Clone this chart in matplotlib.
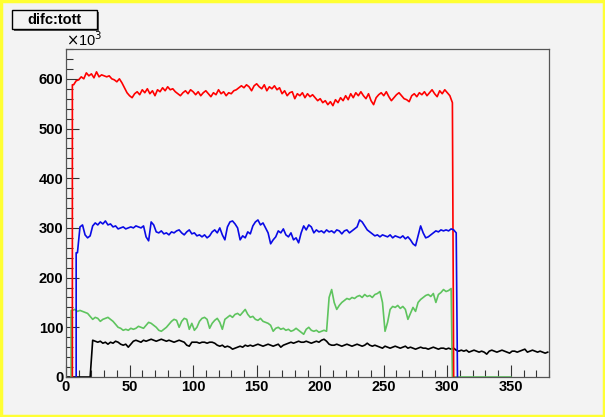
import numpy as np
import matplotlib
matplotlib.use("Agg")
import matplotlib.pyplot as plt
from matplotlib.patches import Rectangle
from matplotlib.ticker import MultipleLocator

plt.rcParams['font.family'] = ['Liberation Sans', 'DejaVu Sans']

# histogram contents (x10^3), 2-unit bins starting at x0
red_x0 = 5
red = [588, 596, 598, 604, 600,
       612, 606, 610, 602, 614, 604, 608, 606, 604, 606,
       600, 598, 594, 600, 592,
       582, 572, 566, 562, 570,
       574, 568, 578, 572, 580, 570, 576, 566, 578, 574, 582, 576, 584, 578, 580, 574, 570, 566, 572, 576, 570, 578, 574,
       568, 574, 566, 572, 576, 570, 564, 572, 568, 578, 570, 574, 566, 572, 570, 576, 578, 582,
       586, 582, 588, 584, 576, 586, 590, 584, 580, 588, 576, 584, 580, 586,
       578, 582, 570, 576, 566, 572, 574, 560, 570, 566, 572, 562, 570, 564, 568,
       562, 556, 560, 552, 556, 548, 554, 546, 558, 552, 562, 556, 566, 558, 570, 562, 572, 566,
       574, 566, 560, 570, 556, 548, 562, 568, 572, 566, 574, 564, 556, 562, 568, 572, 566, 560, 558,
       554, 566, 570, 564, 572, 568, 574, 566, 572, 578, 570, 564, 576, 570, 578, 572, 566, 552]

blue_x0 = 8
blue = [250, 302, 306,
        286, 280, 284,
        304, 310, 306, 312, 308, 314, 306, 308, 302, 304, 298, 300, 302, 298, 300, 302, 300, 304, 302, 300, 304,
        282, 274, 312,
        306, 292, 290, 294, 288, 290, 286, 292, 290, 294, 296, 290, 286, 292, 296, 288, 290, 284, 286, 282, 286, 280,
        284, 292, 296, 290, 300, 286, 276, 302, 312,
        314, 308, 300, 276, 284, 280, 292, 288,
        304, 312, 316, 306, 310, 300, 290,
        268, 276, 282, 294, 290, 298, 286, 282, 290, 276, 280, 270,
        290, 304, 296, 306, 302, 290, 296, 292,
        294, 290, 296, 292, 294, 290, 296, 294, 288, 294, 296, 290, 294, 298, 302,
        316, 312, 304, 296, 292,
        288, 284, 286, 282, 286, 284, 282, 286, 280, 284, 282, 280, 284, 278, 282, 276,
        268, 264, 284, 304, 290, 280, 282, 286, 290,
        294, 292, 296, 294, 296, 294, 298, 296, 290]

green_x0 = 4
green = [134, 136, 132,
         134, 132, 130, 128, 122,
         116, 120, 118, 112, 116, 118, 120, 116,
         112, 106, 100, 98, 94, 96, 94,
         98, 96, 98, 102, 100, 98, 104, 110,
         108, 104, 100, 94, 92, 96, 100,
         106, 112, 116, 114, 100, 112, 118, 116, 96, 108,
         94, 100, 112, 118, 120, 116, 98,
         108, 114, 118, 110, 96, 116, 120, 124,
         120, 126, 128, 124, 130, 136, 126, 120,
         122, 116, 114, 118, 112, 110, 108, 104, 92,
         98, 100, 96, 98, 94, 96, 92, 94, 98, 94, 90,
         86, 96, 100, 94, 92, 94, 90, 92, 94, 92,
         160, 176, 150, 136, 144,
         150, 154, 158, 156, 160, 158, 162, 164, 160, 166, 162, 164, 160, 166, 168, 172,
         150, 92, 110, 136,
         142, 140, 144, 138, 142, 136,
         116, 128, 140, 132,
         150, 156, 160, 164, 166, 162, 168, 150,
         166, 170, 176, 172, 174, 178]
green_end = 350

black_x0 = 0
black = [0, 0, 0, 0, 0, 0, 0, 0, 0, 0,
         74, 72, 70, 72, 68, 70, 66, 70, 68, 72, 70, 66, 64, 66,
         60, 66,
         72, 74, 72, 70, 74, 72, 74, 76, 74, 72, 74, 76, 74, 72, 74, 72, 70, 72, 74, 72, 70,
         64, 62, 70,
         70, 70, 68, 70, 70, 68, 70, 70, 68,
         64, 62, 64, 60, 62, 60, 56, 58,
         60, 62, 60, 64, 62, 64, 62, 64, 66, 64, 62, 64, 66, 64, 62, 64, 66, 60, 64, 66, 68,
         70, 68, 70, 72, 70, 70, 72, 70, 68, 70, 72, 70,
         74, 76, 72, 66, 64,
         64, 66, 64, 62, 64, 66, 64, 62, 64, 66, 64, 62, 64, 68, 64, 62, 64, 62,
         60, 58, 62, 60, 58, 60, 62, 60, 58, 60, 62, 58, 60, 58, 56, 58, 60, 58, 58, 56, 58, 60, 58, 56, 58, 58, 56, 58, 56,
         58, 54, 52, 54, 52, 54, 50, 52, 54, 52, 50, 52, 50, 46, 52, 54, 52, 50, 52, 54, 52, 50, 48, 52, 52, 50, 52, 54, 56,
         50, 52, 54, 52, 50, 52, 50, 48, 50]

title = "difc:tott"
bg = '#f3f3f3'


def hist_xy(x0, vals, close=True, tail=None):
    # points at bin centres, with vertical rise/fall at the ends
    n = len(vals)
    xs = [x0] + list(x0 + 1 + 2 * np.arange(n))
    ys = [0] + list(vals)
    if vals[0] != 0:
        xs.insert(1, x0)
        ys.insert(1, vals[0])
    if close:
        xs.append(x0 + 2 * n)
        ys.append(0)
    if tail is not None:
        xs.append(tail)
        ys.append(0)
    return xs, ys


fig = plt.figure(figsize=(6.05, 4.17), dpi=100)
fig.patch.set_facecolor(bg)
ax = fig.add_axes([66 / 605, 40 / 417, (549 - 66) / 605, (377 - 49) / 417])
ax.set_facecolor(bg)

lw = 1.2
xs, ys = hist_xy(black_x0, black, close=False)
ax.plot(xs, ys, color='black', lw=lw)
xs, ys = hist_xy(green_x0, green, tail=green_end)
ax.plot(xs, ys, color='#5ec45e', lw=lw)
xs, ys = hist_xy(red_x0, red)
ax.plot(xs, ys, color='#ff0000', lw=lw)
xs, ys = hist_xy(blue_x0, blue)
ax.plot(xs, ys, color='#0a0ae6', lw=lw)

ax.set_xlim(0, 380)
ax.set_ylim(0, 660)
ax.xaxis.set_major_locator(MultipleLocator(50))
ax.xaxis.set_minor_locator(MultipleLocator(10))
ax.yaxis.set_major_locator(MultipleLocator(100))
ax.yaxis.set_minor_locator(MultipleLocator(20))
ax.tick_params(which='both', direction='in', top=False, right=False, width=0.8, color='#333333')
ax.tick_params(which='major', length=9, labelsize=10.5, pad=2)
ax.tick_params(which='minor', length=5)
for lab in ax.get_xticklabels() + ax.get_yticklabels():
    lab.set_fontweight('bold')
for s in ax.spines.values():
    s.set_color('#555555')
    s.set_linewidth(0.9)

fig.text(66 / 605, (417 - 49) / 417, r'$\times$10$^{3}$', fontsize=10.5, ha='left', va='bottom')

# title box
fig.patches.append(Rectangle((14 / 605, (417 - 31) / 417), 85 / 605, 19 / 417,
                             transform=fig.transFigure, facecolor='#555555', edgecolor='none'))
fig.patches.append(Rectangle((12 / 605, (417 - 29) / 417), 85 / 605, 19 / 417,
                             transform=fig.transFigure, facecolor=bg, edgecolor='black', lw=1))
fig.text(54 / 605, (417 - 19.5) / 417, title, fontsize=10.5, fontweight='bold', ha='center', va='center')

# yellow outer border
fig.patches.append(Rectangle((0.002, 0.003), 0.996, 0.994, transform=fig.transFigure,
                             facecolor='none', edgecolor='#ffff33', lw=2.5))

fig.savefig('out.png', dpi=100, facecolor=bg)
